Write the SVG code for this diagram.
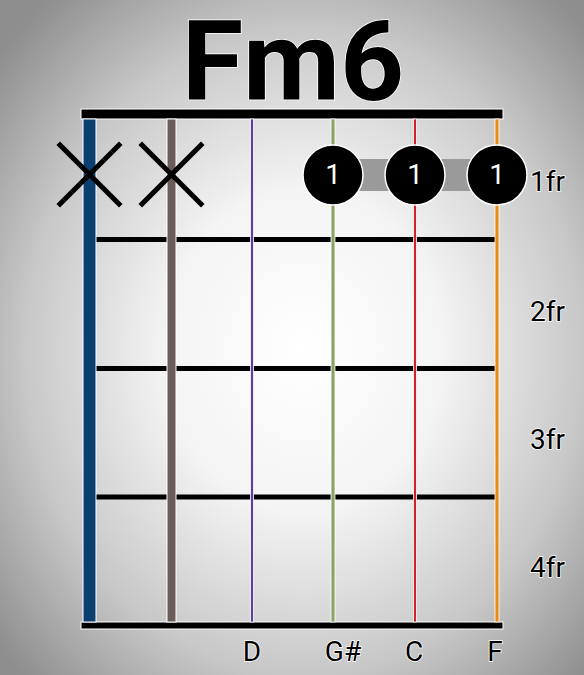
<svg xmlns="http://www.w3.org/2000/svg" width="584" height="675" viewBox="0 0 584 675">
<defs>
<radialGradient id="bg" cx="52%" cy="52%" r="68%">
<stop offset="0" stop-color="#ffffff"/>
<stop offset="0.35" stop-color="#f4f4f4"/>
<stop offset="0.7" stop-color="#c8c8c8"/>
<stop offset="1" stop-color="#8e8e8e"/>
</radialGradient>
<style>
.lbl{font-family:Roboto,"Liberation Sans",sans-serif;font-size:28px;fill:#000;stroke:#fff;stroke-width:1.5px;paint-order:stroke}
.title{font-family:Roboto,"Liberation Sans",sans-serif;font-weight:bold;font-size:112px;fill:#000;stroke:#fff;stroke-width:1.5px;paint-order:stroke}
.fret{stroke:#000;stroke-width:5}
.x{stroke:#000;stroke-width:5;stroke-linecap:square}
.dot{fill:#000;stroke:#fff;stroke-width:1.5}
.dt{font-family:Roboto,"Liberation Sans",sans-serif;font-size:28px;fill:#fff;text-anchor:middle}
</style>
</defs>
<rect width="584" height="675" fill="url(#bg)"/>
<text class="title" x="293" y="100" text-anchor="middle">Fm6</text>
<g id="frets">
<rect x="81" y="109" width="422" height="10" fill="#000" stroke="#fff" stroke-width="1"/>
<line class="fret" x1="96" y1="239.5" x2="497" y2="239.5"/>
<line class="fret" x1="96" y1="368.5" x2="497" y2="368.5"/>
<line class="fret" x1="96" y1="497" x2="497" y2="497"/>
<rect x="81" y="622" width="422" height="7" fill="#000" stroke="#fff" stroke-width="1"/>
</g>
<g id="strings">
<rect x="83" y="119" width="13" height="503" fill="#0b3f6f" stroke="#fff" stroke-width="1"/>
<rect x="167" y="119" width="9" height="503" fill="#6b5c5a" stroke="#fff" stroke-width="1"/>
<rect x="250.5" y="119" width="3" height="503" fill="#5a3ea0" stroke="#fff" stroke-width="0.8"/>
<rect x="331" y="119" width="4" height="503" fill="#8ca366" stroke="#fff" stroke-width="0.8"/>
<rect x="413.5" y="119" width="3" height="503" fill="#cc2428" stroke="#fff" stroke-width="0.8"/>
<rect x="495" y="119" width="4" height="503" fill="#e58c14" stroke="#fff" stroke-width="0.8"/>
</g>
<g id="mutes">
<line class="x" x1="60" y1="145" x2="119" y2="204"/>
<line class="x" x1="119" y1="145" x2="60" y2="204"/>
<line class="x" x1="142" y1="145" x2="201" y2="204"/>
<line class="x" x1="201" y1="145" x2="142" y2="204"/>
</g>
<g id="barre">
<rect x="333" y="159" width="164" height="32" fill="#9a9a9a"/>
<circle class="dot" cx="333" cy="175" r="30"/>
<circle class="dot" cx="415" cy="175" r="30"/>
<circle class="dot" cx="497" cy="175" r="30"/>
<text class="dt" x="333" y="184">1</text>
<text class="dt" x="415" y="184">1</text>
<text class="dt" x="497" y="184">1</text>
</g>
<g id="fret-labels">
<text class="lbl" x="530" y="191">1fr</text>
<text class="lbl" x="530" y="321">2fr</text>
<text class="lbl" x="530" y="449">3fr</text>
<text class="lbl" x="530" y="577">4fr</text>
</g>
<g id="string-labels">
<text class="lbl" x="252" y="661" text-anchor="middle">D</text>
<text class="lbl" x="343" y="661" text-anchor="middle">G#</text>
<text class="lbl" x="414" y="661" text-anchor="middle">C</text>
<text class="lbl" x="495" y="661" text-anchor="middle">F</text>
</g>
</svg>
